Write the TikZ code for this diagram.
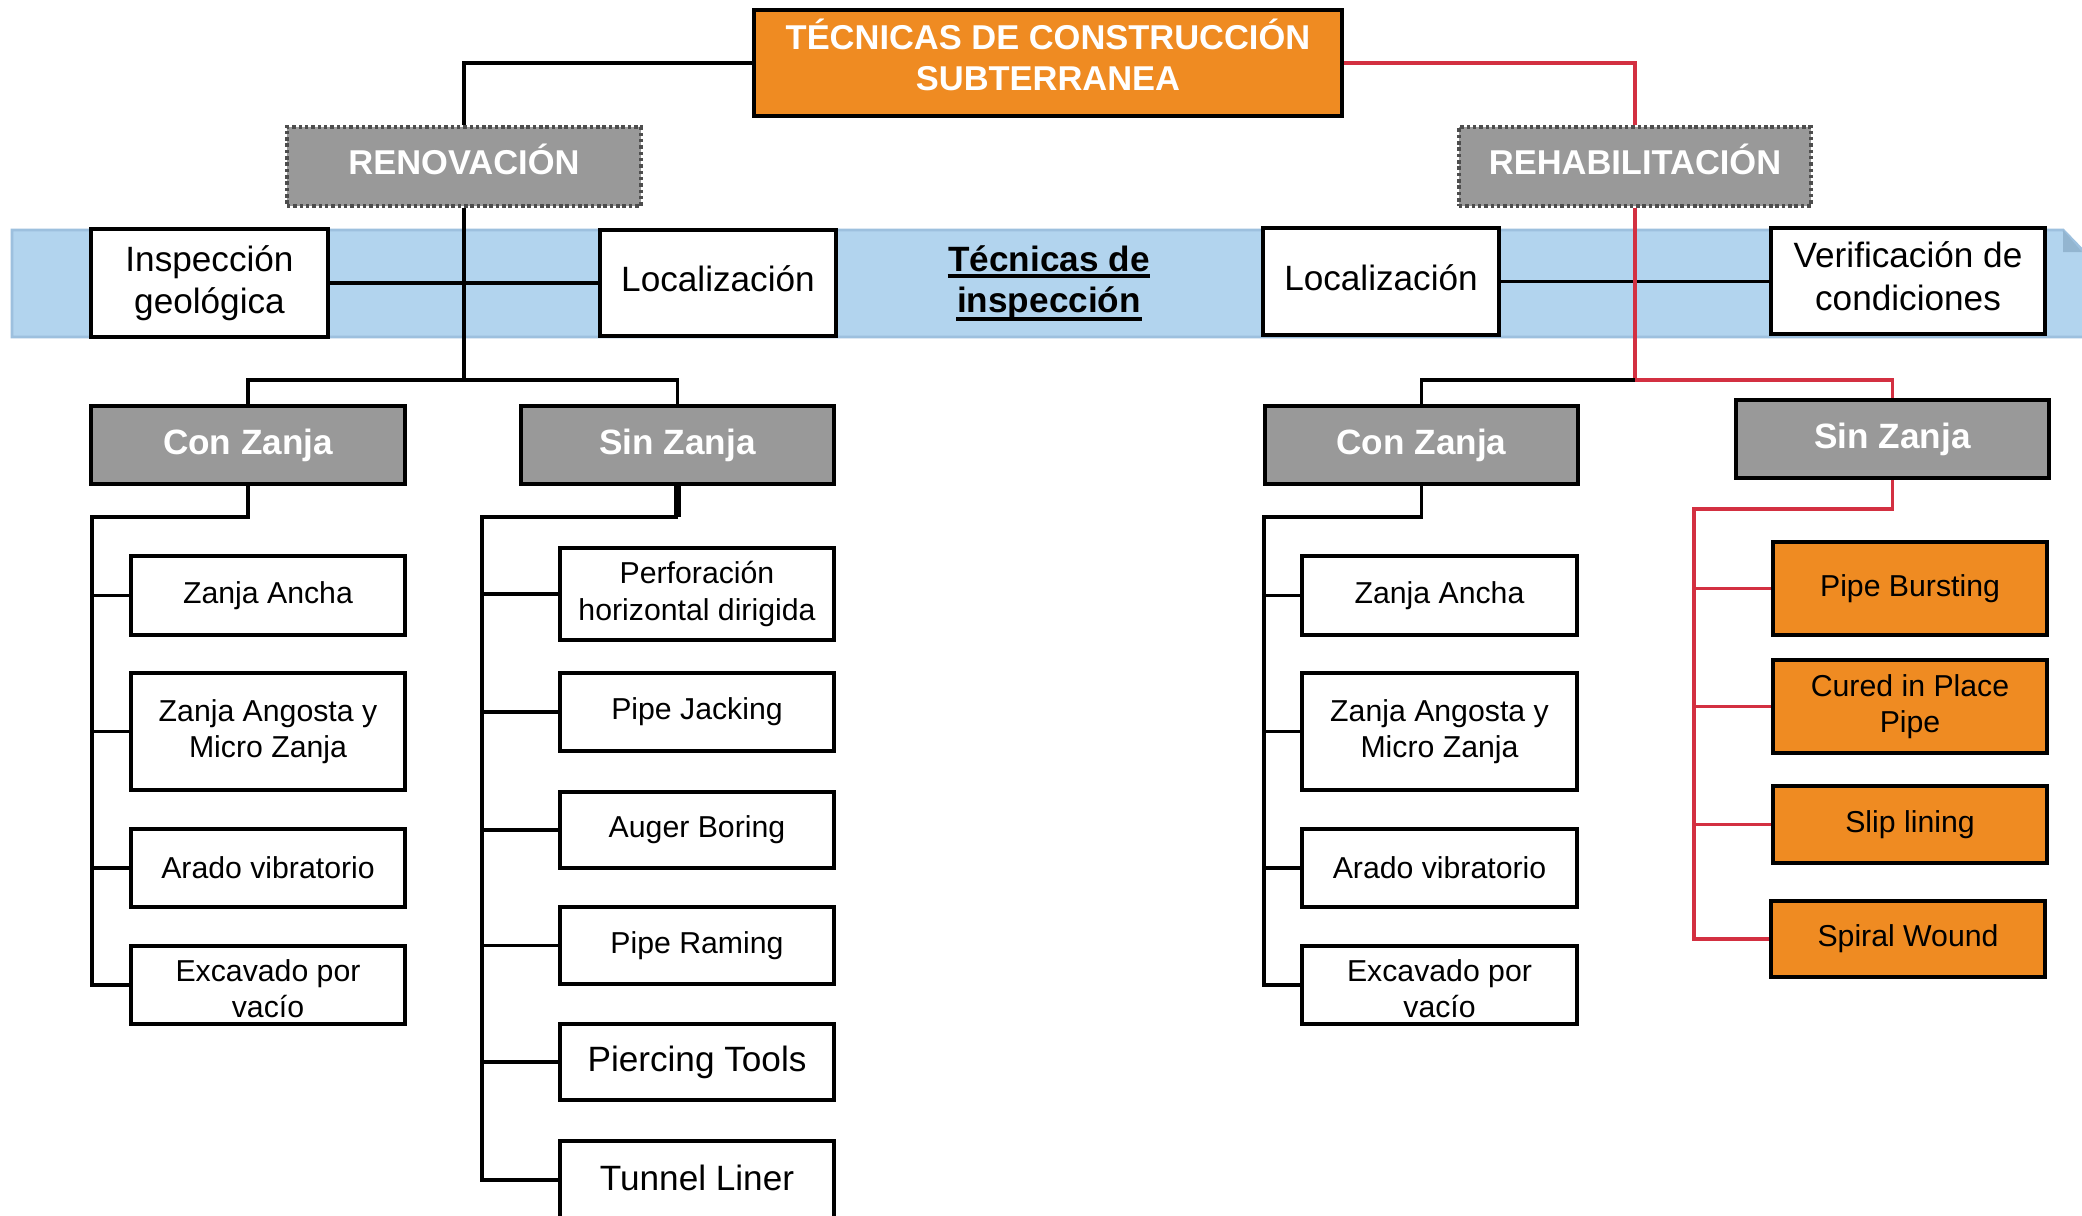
\documentclass[tikz,border=0pt]{standalone}
\usepackage{fontspec}
\setmainfont{Liberation Sans}
\definecolor{orangebox}{HTML}{EF8B22}
\definecolor{graybox}{HTML}{999999}
\definecolor{redline}{HTML}{D33041}
\definecolor{bandblue}{HTML}{B2D4EE}
\definecolor{bandedge}{HTML}{9DC0DE}
\definecolor{bandfold}{HTML}{93B5D0}
\definecolor{dotgray}{HTML}{4D4D4D}
\tikzset{
  conn/.style={line width=1pt, draw=black},
  redconn/.style={line width=1pt, draw=redline},
  box/.style={draw=black, line width=1.15pt, fill=white, inner sep=0pt, align=center},
  item/.style={box, font=\fontsize{8.6}{10.3}\selectfont},
  bigitem/.style={box, font=\fontsize{10}{12.1}\selectfont},
  orangeitem/.style={item, fill=orangebox},
  headbox/.style={draw=black, line width=1.15pt, fill=graybox, text=white, inner sep=0pt,
    align=center, font=\bfseries\fontsize{10}{12}\selectfont},
  dotbox/.style={draw=dotgray, line width=1.1pt, dash pattern=on 1pt off 0.8pt, fill=graybox,
    inner sep=0pt},
  labwhite/.style={text=white, inner sep=0pt, align=center, font=\bfseries\fontsize{9.8}{11.7}\selectfont},
  labbig/.style={text=black, inner sep=0pt, align=center, font=\fontsize{10}{12.1}\selectfont},
  labitem/.style={text=black, inner sep=0pt, align=center, font=\fontsize{8.6}{10.3}\selectfont},
  tectxt/.style={inner sep=0pt, font=\bfseries\fontsize{10}{12}\selectfont},
}
\begin{document}
\begin{tikzpicture}[x=0.01cm, y=-0.01cm]
\clip (0,0) rectangle (2082,1215);
\fill[white] (0,0) rectangle (2082,1215);

% blue band
\filldraw[fill=bandblue, draw=bandedge, line width=0.8pt]
  (12,230) -- (2063,230) -- (2090,258) -- (2090,337) -- (12,337) -- cycle;
\fill[bandfold] (2063,230) -- (2063,252) -- (2082,252) -- cycle;

% title
\node[draw=black, line width=1.3pt, fill=orangebox, inner sep=0pt,
  minimum width=5.88cm, minimum height=1.06cm,
  label={[labwhite, yshift=2.3pt]center:TÉCNICAS DE CONSTRUCCIÓN\\SUBTERRANEA}]
  (title) at (1048,63) {};

\node[dotbox, minimum width=3.54cm, minimum height=0.79cm,
  label={[labwhite, yshift=2pt]center:RENOVACIÓN}] (reno) at (464,166.5) {};
\node[dotbox, minimum width=3.52cm, minimum height=0.79cm,
  label={[labwhite, yshift=2pt]center:REHABILITACIÓN}] (rehab) at (1635,166.5) {};

% inspection band boxes
\node[bigitem, minimum width=2.37cm, minimum height=1.07cm] (insp) at (209.5,283) {Inspección\\geológica};
\node[box, minimum width=2.36cm, minimum height=1.06cm,
  label={[labbig, yshift=1.1pt]center:Localización}] (locL) at (718,283) {};
\node[tectxt, anchor=base] (tec1) at (1049,271) {Técnicas de};
\node[tectxt, anchor=base] (tec2) at (1049,312) {inspección};
\draw[line width=0.9pt] ([yshift=-1.4pt]tec1.base west) -- ([yshift=-1.4pt]tec1.base east);
\draw[line width=0.9pt] ([yshift=-2pt]tec2.base west) -- ([yshift=-2pt]tec2.base east);
\node[box, minimum width=2.36cm, minimum height=1.07cm,
  label={[labbig, yshift=1.1pt]center:Localización}] (locR) at (1381,281.5) {};
\node[box, minimum width=2.74cm, minimum height=1.05cm,
  label={[labbig, yshift=1.3pt]center:Verificación de\\condiciones}] (verif) at (1908,281) {};

% headers
\node[headbox, minimum width=3.14cm, minimum height=0.78cm] (conL) at (248,445) {Con Zanja};
\node[headbox, minimum width=3.13cm, minimum height=0.78cm] (sinL) at (677.5,445) {Sin Zanja};
\node[headbox, minimum width=3.13cm, minimum height=0.78cm] (conR) at (1421.5,445) {Con Zanja};
\node[headbox, minimum width=3.13cm, minimum height=0.78cm] (sinR) at (1892.5,439) {Sin Zanja};

% left con zanja items
\node[item, minimum width=2.74cm, minimum height=0.79cm] (za1) at (268,595.5) {Zanja Ancha};
\node[item, minimum width=2.74cm, minimum height=1.17cm] (zb1) at (268,731.5) {Zanja Angosta y\\Micro Zanja};
\node[item, minimum width=2.74cm, minimum height=0.78cm] (zc1) at (268,868) {Arado vibratorio};
\node[box, minimum width=2.74cm, minimum height=0.78cm,
  label={[labitem, yshift=-1.1pt]center:Excavado por\\vacío}] (zd1) at (268,985) {};

% left sin zanja items
\node[item, minimum width=2.74cm, minimum height=0.92cm] (perf) at (697,594) {Perforación\\horizontal dirigida};
\node[item, minimum width=2.74cm, minimum height=0.78cm] (jack) at (697,712) {Pipe Jacking};
\node[item, minimum width=2.74cm, minimum height=0.76cm] (auger) at (697,830) {Auger Boring};
\node[item, minimum width=2.74cm, minimum height=0.77cm] (ram) at (697,945.5) {Pipe Raming};
\node[bigitem, minimum width=2.74cm, minimum height=0.76cm] (pierce) at (697,1062) {Piercing Tools};
\node[box, minimum width=2.74cm, minimum height=0.78cm,
  label={[labbig, yshift=0.6pt]center:Tunnel Liner}] (tunnel) at (697,1180) {};

% right con zanja items
\node[item, minimum width=2.75cm, minimum height=0.79cm] (za2) at (1439.5,595.5) {Zanja Ancha};
\node[item, minimum width=2.75cm, minimum height=1.17cm] (zb2) at (1439.5,731.5) {Zanja Angosta y\\Micro Zanja};
\node[item, minimum width=2.75cm, minimum height=0.78cm] (zc2) at (1439.5,868) {Arado vibratorio};
\node[box, minimum width=2.75cm, minimum height=0.78cm,
  label={[labitem, yshift=-1.1pt]center:Excavado por\\vacío}] (zd2) at (1439.5,985) {};

% right sin zanja items (orange)
\node[orangeitem, minimum width=2.74cm, minimum height=0.93cm] (pb) at (1910,588.5) {Pipe Bursting};
\node[orangeitem, minimum width=2.74cm, minimum height=0.93cm] (cipp) at (1910,706.5) {Cured in Place\\Pipe};
\node[orangeitem, minimum width=2.74cm, minimum height=0.77cm] (slip) at (1910,824.5) {Slip lining};
\node[orangeitem, minimum width=2.74cm, minimum height=0.76cm] (spiral) at (1908,939) {Spiral Wound};

% coordinates
\coordinate (jL) at (464,380);
\coordinate (jR) at (1635,380);
\coordinate (cL) at (92,517);
\coordinate (sL) at (482,517);
\coordinate (cR) at (1264,517);
\coordinate (sR) at (1694,509);

% top connectors
\draw[conn] (title.west) -| (reno.north);
\draw[redconn] (title.east) -| (rehab.north);

% band connectors
\draw[conn] (insp.east) -- (locL.west);
\draw[conn] (locR.east) -- (locR.east -| verif.west);

% left trunk
\draw[conn] (reno.south) -- (jL);
\draw[conn] (jL) -| (conL.north);
\draw[conn] (jL) -| (sinL.north);

% right trunk
\draw[redconn] (rehab.south) -- (jR);
\draw[conn] (jR) -| (conR.north);
\draw[redconn] (jR) -| (sinR.north);

% left con zanja tree
\draw[conn] (conL.south) |- (cL) |- (zd1.west);
\draw[conn] (cL |- za1.west) -- (za1.west);
\draw[conn] (cL |- zb1.west) -- (zb1.west);
\draw[conn] (cL |- zc1.west) -- (zc1.west);

% left sin zanja tree
\draw[conn, line width=2pt] (sinL.south) -- (sinL.south |- sL);
\draw[conn] (sinL.south |- sL) -- (sL) |- (tunnel.west);
\draw[conn] (sL |- perf.west) -- (perf.west);
\draw[conn] (sL |- jack.west) -- (jack.west);
\draw[conn] (sL |- auger.west) -- (auger.west);
\draw[conn] (sL |- ram.west) -- (ram.west);
\draw[conn] (sL |- pierce.west) -- (pierce.west);

% right con zanja tree
\draw[conn] (conR.south) |- (cR) |- (zd2.west);
\draw[conn] (cR |- za2.west) -- (za2.west);
\draw[conn] (cR |- zb2.west) -- (zb2.west);
\draw[conn] (cR |- zc2.west) -- (zc2.west);

% right sin zanja tree
\draw[redconn] (sinR.south) |- (sR) |- (spiral.west);
\draw[redconn] (sR |- pb.west) -- (pb.west);
\draw[redconn] (sR |- cipp.west) -- (cipp.west);
\draw[redconn] (sR |- slip.west) -- (slip.west);
\end{tikzpicture}
\end{document}
